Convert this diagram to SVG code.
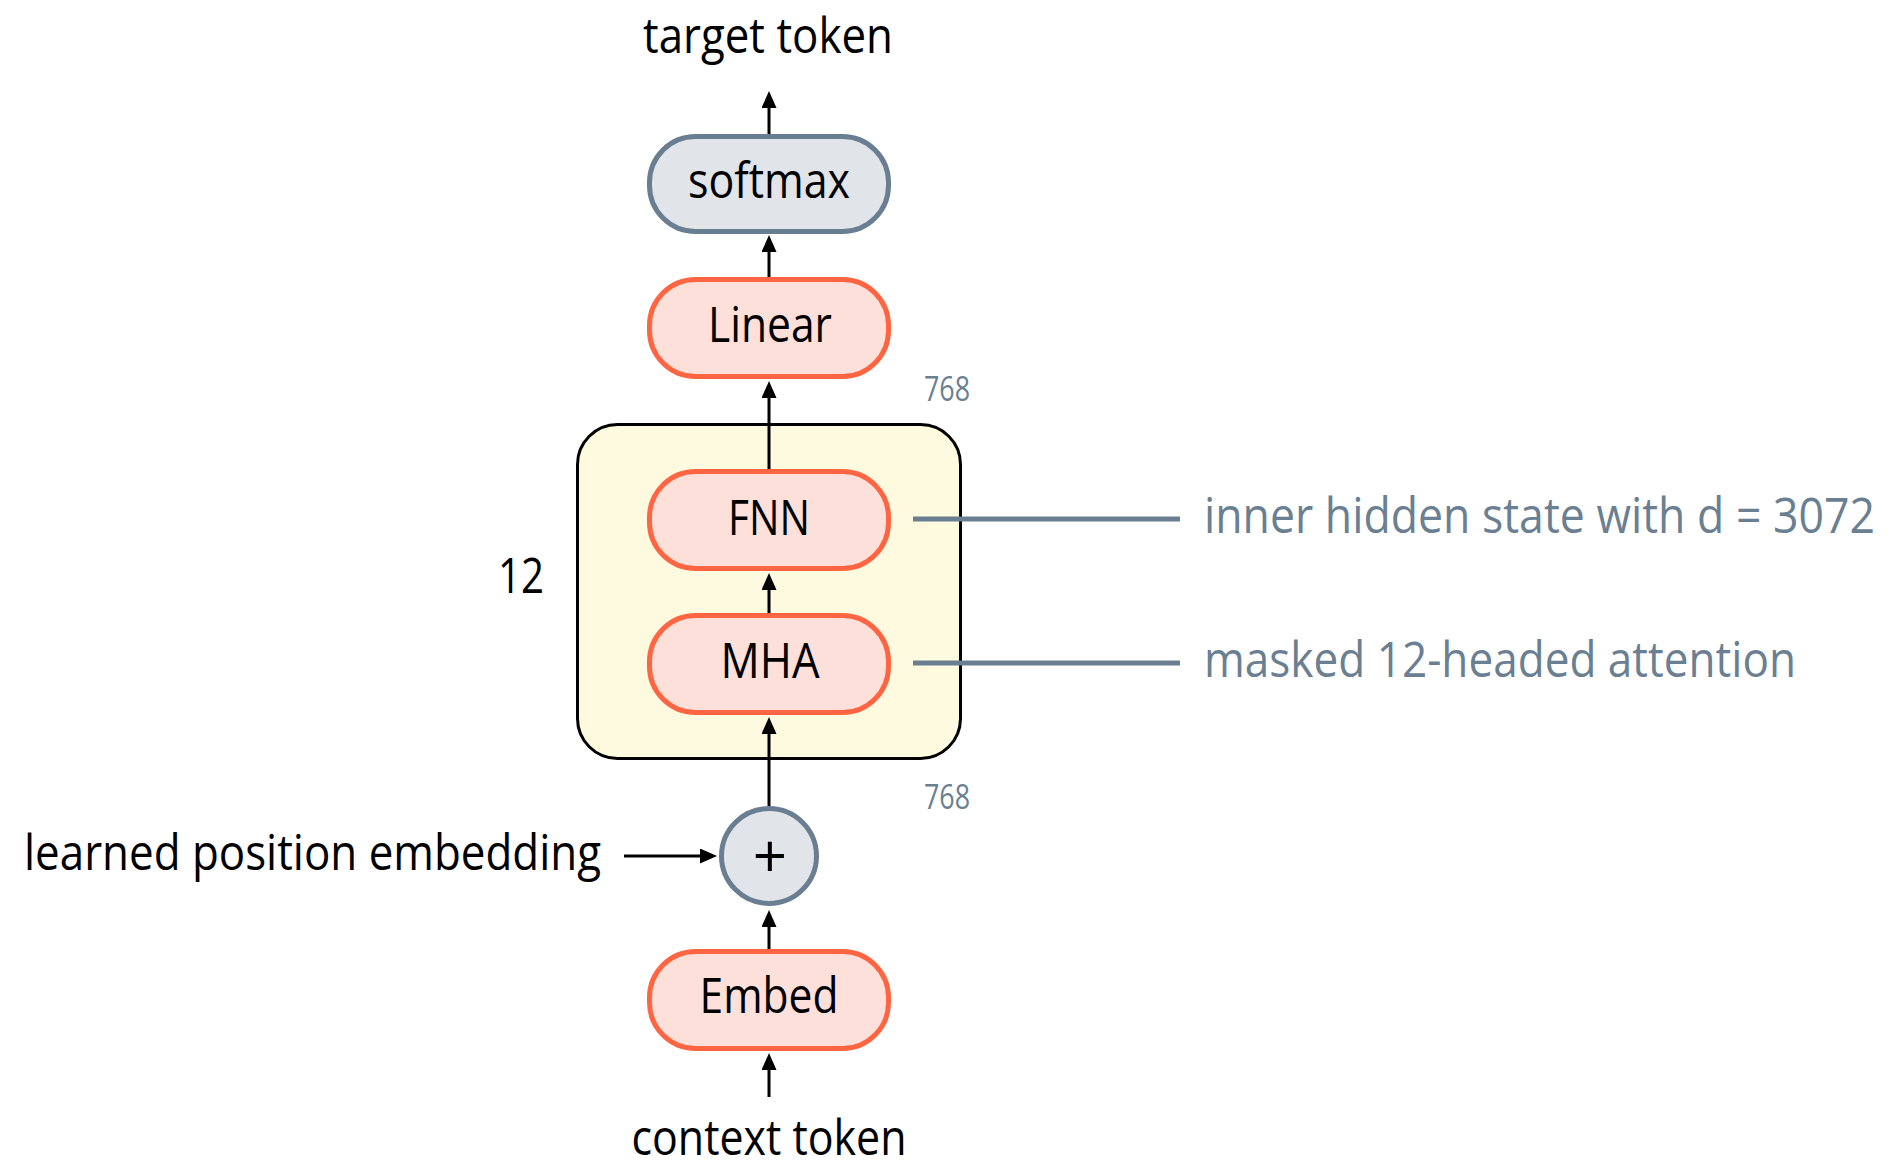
<svg xmlns="http://www.w3.org/2000/svg" width="1892" height="1167" viewBox="0 0 1892 1167">
  <style>
    text { font-family: "Open Sans", "Liberation Sans", sans-serif; }
    .lbl { font-size: 50px; fill: #000; }
    .note { font-size: 50px; fill: #6b7f92; }
    .dim { font-size: 34px; fill: #6b7f92; }
    .op { fill: #fde0da; stroke: #ff6542; stroke-width: 5; }
    .fn { fill: #e1e4e9; stroke: #6a7e92; stroke-width: 5; }
    .block { fill: #fefadf; stroke: #000; stroke-width: 3; }
    .flow { fill: none; stroke: #000; stroke-width: 3; marker-end: url(#head); }
    .lead { fill: none; stroke: #6a7e92; stroke-width: 5; }
  </style>
  <defs>
    <marker id="head" markerUnits="userSpaceOnUse" markerWidth="17" markerHeight="15" refX="0" refY="7.5" orient="auto">
      <path d="M0,0 L17,7.5 L0,15 z" fill="#000"/>
    </marker>
  </defs>

  <rect width="1892" height="1167" fill="#fff"/>

  <!-- repeated transformer block -->
  <g id="block">
    <rect class="block" x="577.5" y="424.5" width="383" height="334" rx="40"/>
    <text class="lbl" x="521" y="593" text-anchor="middle" textLength="46" lengthAdjust="spacingAndGlyphs">12</text>
  </g>

  <!-- connectors -->
  <g id="connectors">
    <path class="flow" d="M769,1097 V1070"/>
    <path class="flow" d="M769,949 V927"/>
    <path class="flow" d="M624,856 H700"/>
    <path class="flow" d="M769,806 V734"/>
    <path class="flow" d="M769,613 V590"/>
    <path class="flow" d="M769,469 V398"/>
    <path class="flow" d="M769,277 V252"/>
    <path class="flow" d="M769,134 V108"/>
    <path class="lead" d="M913,519 H1180"/>
    <path class="lead" d="M913,663 H1180"/>
  </g>

  <g id="context-token">
    <text class="lbl" x="769" y="1155" text-anchor="middle" textLength="275" lengthAdjust="spacingAndGlyphs">context token</text>
  </g>

  <g id="embed">
    <rect class="op" x="649.5" y="951.5" width="239" height="97" rx="46"/>
    <text class="lbl" x="769" y="1013" text-anchor="middle" textLength="139" lengthAdjust="spacingAndGlyphs">Embed</text>
  </g>

  <g id="position-embedding">
    <text class="lbl" x="24" y="870" textLength="577" lengthAdjust="spacingAndGlyphs">learned position embedding</text>
  </g>

  <g id="add">
    <circle class="fn" cx="769" cy="856" r="47.5"/>
    <text class="lbl" x="770" y="878" text-anchor="middle" style="font-size:60px">+</text>
  </g>

  <g id="mha">
    <rect class="op" x="649.5" y="615.5" width="239" height="97" rx="46"/>
    <text class="lbl" x="770" y="678" text-anchor="middle" textLength="99" lengthAdjust="spacingAndGlyphs">MHA</text>
  </g>

  <g id="fnn">
    <rect class="op" x="649.5" y="471.5" width="239" height="97" rx="46"/>
    <text class="lbl" x="769" y="535" text-anchor="middle" textLength="82" lengthAdjust="spacingAndGlyphs">FNN</text>
  </g>

  <g id="linear">
    <rect class="op" x="649.5" y="279.5" width="239" height="97" rx="46"/>
    <text class="lbl" x="770" y="342" text-anchor="middle" textLength="124" lengthAdjust="spacingAndGlyphs">Linear</text>
  </g>

  <g id="softmax">
    <rect class="fn" x="649.5" y="136.5" width="239" height="95" rx="46"/>
    <text class="lbl" x="769" y="198" text-anchor="middle" textLength="162" lengthAdjust="spacingAndGlyphs">softmax</text>
  </g>

  <g id="target-token">
    <text class="lbl" x="768" y="53" text-anchor="middle" textLength="250" lengthAdjust="spacingAndGlyphs">target token</text>
  </g>

  <!-- dimension labels -->
  <g id="dims">
    <text class="dim" x="924" y="401" textLength="46" lengthAdjust="spacingAndGlyphs">768</text>
    <text class="dim" x="924" y="809" textLength="46" lengthAdjust="spacingAndGlyphs">768</text>
  </g>

  <!-- annotations -->
  <g id="notes">
    <text class="note" x="1204" y="533" textLength="671" lengthAdjust="spacingAndGlyphs">inner hidden state with d = 3072</text>
    <text class="note" x="1204" y="677" textLength="592" lengthAdjust="spacingAndGlyphs">masked 12-headed attention</text>
  </g>
</svg>
